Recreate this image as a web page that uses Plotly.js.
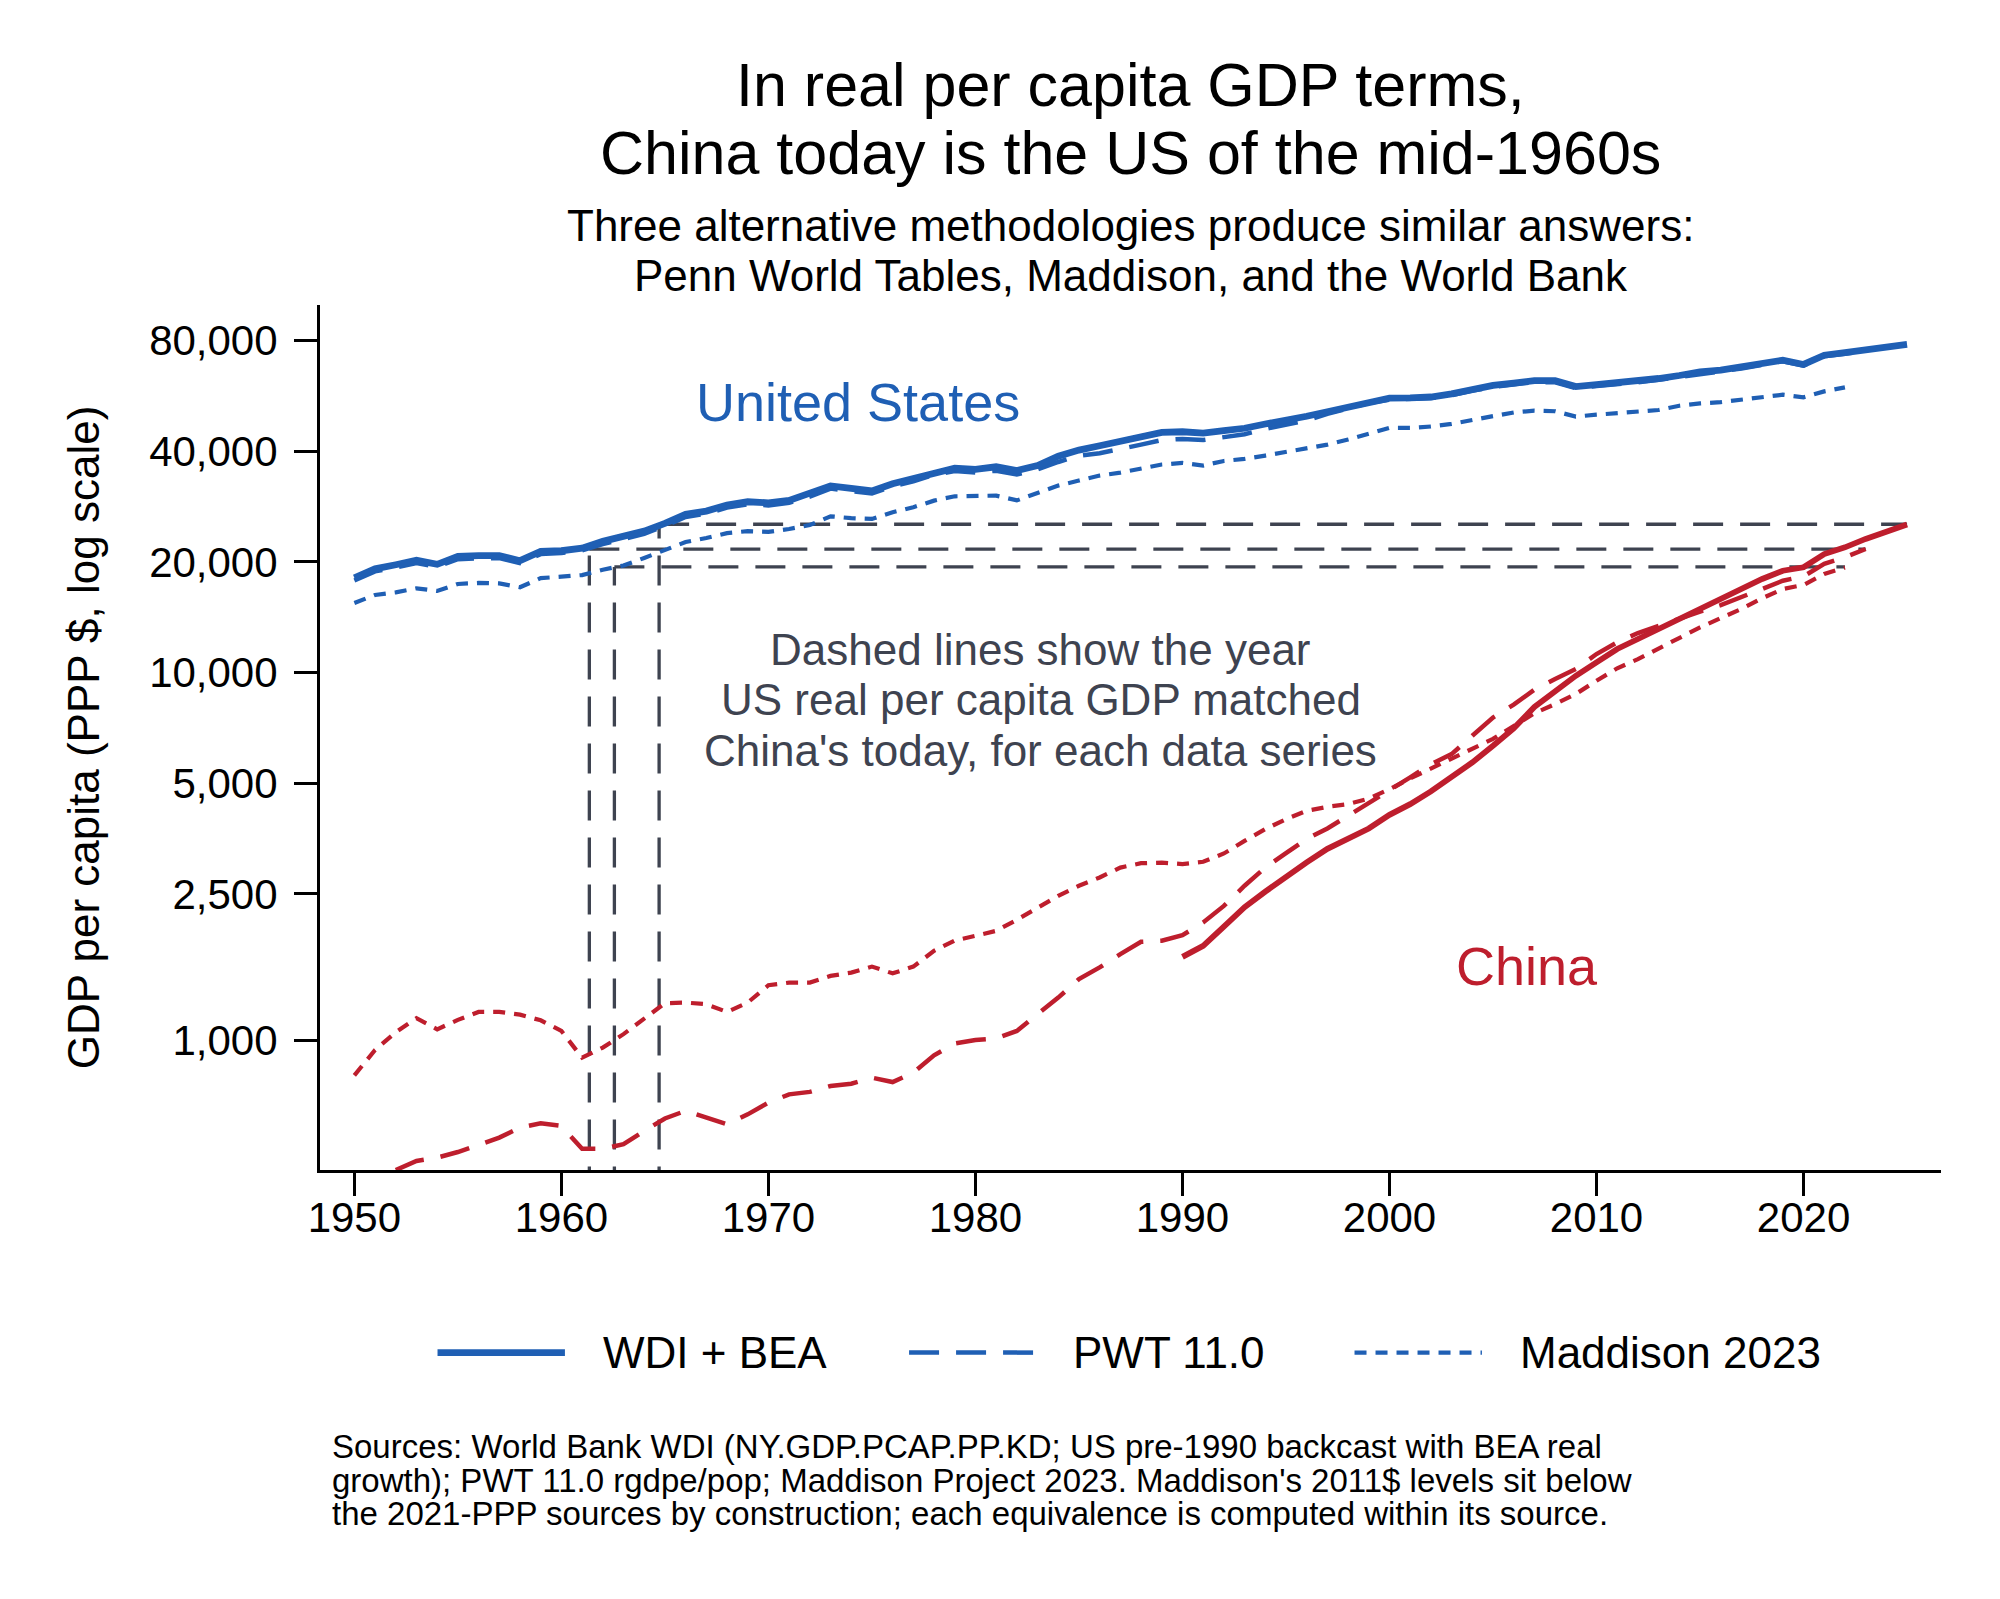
<!DOCTYPE html>
<html>
<head>
<meta charset="utf-8">
<script src="https://cdn.plot.ly/plotly-3.0.1.min.js"></script>
<style>
  body { margin: 0; background: #fff; }
  #chart { width: 2000px; height: 1599px; }
</style>
</head>
<body>
<div id="chart"></div>
<script>
// Year helper for the x values of each series
function yearsFrom(start, end) {
    var out = [];
    for (var y = start; y <= end; y++) out.push(y);
    return out;
}

// United States, GDP per capita
const usWdi = [18100, 19150, 19650, 20200, 19700, 20700, 20800, 20800, 20150, 21350,
    21450, 21800, 22750, 23400, 24250, 25450, 26950, 27500, 28550, 29150,
    28950, 29400, 30600, 32200, 31700, 31200, 32650, 33700, 35100, 36000,
    35700, 36300, 35450, 36580, 38770, 40300, 41400, 42700, 43950, 45000,
    45200, 44800, 45500, 46200, 47450, 48400, 49800, 51250, 52700, 54600,
    55800, 55900, 56200, 57300, 59100, 60400, 61300, 62300, 62300, 60000,
    60700, 61400, 62300, 63100, 64300, 65800, 66500, 67700, 69100, 70800,
    68900, 73000, 74200, 75600, 76800, 78100];                       // 1950-2025
const usPwt = [17800, 18850, 19300, 19850, 19400, 20350, 20450, 20500, 19850, 21000,
    21150, 21500, 22350, 23050, 23850, 25050, 26500, 27050, 28100, 28700,
    28500, 28950, 30100, 31650, 31150, 30700, 32100, 33150, 34500, 35350,
    35000, 35400, 34600, 35700, 37400, 38900, 39500, 40500, 41700, 42900,
    43200, 42900, 43800, 44500, 46000, 47200, 48500, 50600, 52200, 54100,
    55300, 55400, 55800, 56800, 58500, 59800, 60800, 61700, 61600, 59400,
    60200, 60800, 61600, 62600, 63800, 65200, 66000, 67200, 68600, 70300,
    68400, 72500, 73700, 75000];                                     // 1950-2023
const usMaddison = [15460, 16260, 16530, 16950, 16670, 17420, 17530, 17480, 17060, 18070,
    18230, 18420, 19050, 19550, 20500, 21500, 22650, 23230, 23950, 24250,
    24150, 24580, 25200, 26610, 26300, 26180, 27300, 28170, 29360, 30170,
    30170, 30300, 29400, 30750, 32260, 33290, 34350, 35000, 35830, 36810,
    37190, 36580, 37640, 38130, 38930, 39750, 40780, 41700, 43060, 44610,
    46310, 46310, 46720, 47480, 48780, 49850, 51000, 51600, 51400, 49700,
    50300, 50700, 51400, 51800, 53200, 54000, 54400, 55200, 55900, 57000,
    56100, 58200, 59700];                                            // 1950-2022

// China, GDP per capita
const cnWdi = [1685, 1805, 2035, 2300, 2535, 2790, 3044, 3315, 3550, 3765,
    4100, 4385, 4750, 5184, 5694, 6319, 7050, 8060, 8870, 9800,
    10660, 11590, 12340, 13140, 13990, 14830, 15850, 16800, 17970, 18930,
    19340, 21010, 21910, 23100, 24170, 25300];                       // 1990-2025
const cnPwt = [443, 469, 479, 496, 518, 543, 578, 594, 584, 506,
    506, 521, 566, 612, 642, 615, 590, 628, 676, 712,
    723, 750, 761, 790, 769, 815, 909, 979, 1001, 1010,
    1059, 1176, 1305, 1465, 1577, 1713, 1851, 1863, 1930, 2089,
    2318, 2630, 2947, 3227, 3525, 3765, 4075, 4431, 4765, 5184,
    5632, 6000, 6730, 7546, 8180, 8985, 9600, 10220, 11230, 12090,
    12810, 13410, 14050, 14640, 15260, 16010, 16880, 17780, 18270, 19750,
    20590, 21680];                                                   // 1952-2023
const cnMaddison = [802, 940, 1050, 1147, 1070, 1135, 1193, 1193, 1173, 1132,
    1059, 896, 954, 1038, 1144, 1260, 1265, 1252, 1193, 1265,
    1410, 1434, 1434, 1495, 1526, 1585, 1519, 1585, 1749, 1866,
    1922, 1983, 2124, 2296, 2469, 2630, 2770, 2947, 3029, 3040,
    3012, 3056, 3219, 3483, 3750, 3990, 4207, 4312, 4385, 4542,
    4816, 5151, 5483, 5800, 6200, 6600, 7150, 7750, 8207, 8743,
    9502, 10270, 10880, 11640, 12390, 13270, 14070, 14890, 15930, 16880,
    17310, 18540, 19300];                                            // 1950-2022

// Year the US matched China's latest level, per source (WDI, PWT, Maddison)
const matchYear = [1964.72, 1961.35, 1962.56];
const matchLevel = [25320, 21680, 19380];
const matchEnd = [2025, 2023, 2022];

const tickYears = [1950, 1960, 1970, 1980, 1990, 2000, 2010, 2020];
const yTickVals = [1000, 2500, 5000, 10000, 20000, 40000, 80000];
const yTickText = ['1,000', '2,500', '5,000', '10,000', '20,000', '40,000', '80,000'];

const BLUE = '#1f5fb4';
const RED = '#be1e2d';
const GREY = '#3e4350';
const FONT = 'Liberation Sans, Arial, Helvetica, sans-serif';
const DASH = '30px,17px';
const DOT = '12px,9px';
const Y_MIN_LOG = 2.6466;

var traces = [];

// grey guide lines: vertical from the x axis, then across to the end year
for (var i = 0; i < matchYear.length; i++) {
    traces.push({
        x: [matchYear[i], matchYear[i]],
        y: [Math.pow(10, Y_MIN_LOG - 0.2), matchLevel[i]],
        mode: 'lines', showlegend: false, hoverinfo: 'skip',
        line: { color: GREY, width: 3.3, dash: DASH }
    });
    traces.push({
        x: [matchYear[i], matchEnd[i]],
        y: [matchLevel[i], matchLevel[i]],
        mode: 'lines', showlegend: false, hoverinfo: 'skip',
        line: { color: GREY, width: 3.3, dash: DASH }
    });
}

function series(x, y, color, width, dash) {
    return {
        x: x, y: y, mode: 'lines', showlegend: false,
        line: { color: color, width: width, dash: dash }
    };
}

traces.push(series(yearsFrom(1950, 2022), usMaddison, BLUE, 4.2, DOT));
traces.push(series(yearsFrom(1950, 2023), usPwt, BLUE, 4.5, DASH));
traces.push(series(yearsFrom(1950, 2025), usWdi, BLUE, 6.8, 'solid'));
traces.push(series(yearsFrom(1950, 2022), cnMaddison, RED, 4.2, DOT));
traces.push(series(yearsFrom(1952, 2023), cnPwt, RED, 4.5, DASH));
traces.push(series(yearsFrom(1990, 2025), cnWdi, RED, 5.8, 'solid'));

function label(text, x, y, size, color, anchor) {
    return {
        text: text, x: x, y: y, xref: 'paper', yref: 'paper',
        xanchor: anchor || 'center', yanchor: 'middle', showarrow: false,
        font: { family: FONT, size: size, color: color }
    };
}

var annotations = [
    label('In real per capita GDP terms,', 0.5, 1.2540, 61, '#000'),
    label('China today is the US of the mid-1960s', 0.5, 1.1755, 61, '#000'),
    label('Three alternative methodologies produce similar answers:', 0.5, 1.0918, 44, '#000'),
    label('Penn World Tables, Maddison, and the World Bank', 0.5, 1.0338, 44, '#000'),
    label('United States', 0.3318, 0.8882, 54, BLUE),
    label('China', 0.7445, 0.2354, 54, RED),
    label('Dashed lines show the year', 0.4447, 0.6020, 44, GREY),
    label('US real per capita GDP matched', 0.4447, 0.5435, 44, GREY),
    label("China's today, for each data series", 0.4447, 0.4850, 44, GREY),
    // legend labels
    label('WDI + BEA', 0.1733, -0.2111, 44, '#000', 'left'),
    label('PWT 11.0', 0.4633, -0.2111, 44, '#000', 'left'),
    label('Maddison 2023', 0.739, -0.2111, 44, '#000', 'left'),
    // source note
    label('Sources: World Bank WDI (NY.GDP.PCAP.PP.KD; US pre-1990 backcast with BEA real', 0.0064, -0.3201, 33, '#000', 'left'),
    label("growth); PWT 11.0 rgdpe/pop; Maddison Project 2023. Maddison's 2011$ levels sit below", 0.0064, -0.3585, 33, '#000', 'left'),
    label('the 2021-PPP sources by construction; each equivalence is computed within its source.', 0.0064, -0.3967, 33, '#000', 'left')
];

// legend swatches (long samples, like the original)
function swatch(x0, x1, width, dash) {
    return {
        type: 'line', xref: 'paper', yref: 'paper',
        x0: x0, x1: x1, y0: -0.2111, y1: -0.2111,
        line: { color: BLUE, width: width, dash: dash }
    };
}
var shapes = [
    swatch(0.0725, 0.1511, 6.8, 'solid'),
    swatch(0.3634, 0.4423, 4.5, DASH),
    swatch(0.6382, 0.7168, 4.2, DOT)
];

var axisFont = { family: FONT, size: 42, color: '#000' };

var layout = {
    width: 2000,
    height: 1599,
    margin: { l: 320, r: 59, t: 305, b: 429 },
    paper_bgcolor: '#fff',
    plot_bgcolor: '#fff',
    font: { family: FONT, color: '#000' },
    showlegend: false,
    xaxis: {
        range: [1948.34, 2026.64],
        tickvals: tickYears,
        ticks: 'outside', ticklen: 23, tickwidth: 3, tickcolor: '#000',
        ticklabelstandoff: -14,
        showline: true, linewidth: 3, linecolor: '#000',
        showgrid: false, zeroline: false,
        tickfont: axisFont
    },
    yaxis: {
        type: 'log',
        range: [Y_MIN_LOG, 5.0],
        tickvals: yTickVals,
        ticktext: yTickText,
        ticks: 'outside', ticklen: 23, tickwidth: 3, tickcolor: '#000',
        ticklabelstandoff: 8,
        showline: true, linewidth: 3, linecolor: '#000',
        showgrid: false, zeroline: false,
        tickfont: axisFont,
        title: { text: 'GDP per capita (PPP $, log scale)', font: { family: FONT, size: 44, color: '#000' }, standoff: 36 }
    },
    annotations: annotations,
    shapes: shapes
};

Plotly.newPlot('chart', traces, layout, { staticPlot: true });
</script>
</body>
</html>
